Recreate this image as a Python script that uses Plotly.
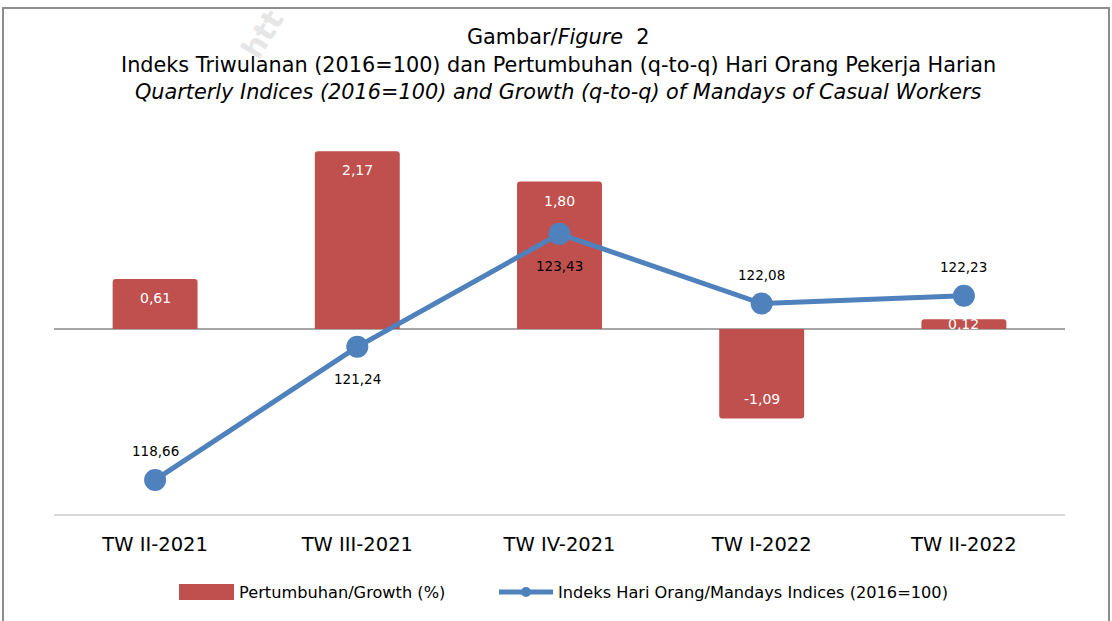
import plotly.graph_objects as go

categories = ["TW II-2021", "TW III-2021", "TW IV-2021", "TW I-2022", "TW II-2022"]
growth = [0.61, 2.17, 1.80, -1.09, 0.12]
index_vals = [118.66, 121.24, 123.43, 122.08, 122.23]
index_label_pos = ["above", "below", "below", "above", "above"]
series_names = ["Pertumbuhan/Growth (%)", "Indeks Hari Orang/Mandays Indices (2016=100)"]

BAR_COLOR = "#C0504D"
LINE_COLOR = "#4F81BD"
FONT = "DejaVu Sans"


def fmt(v):
    return f"{v:.2f}".replace(".", ",")


W, H = 1112, 621
L, R, T, B = 54, 47, 125, 107
pw, ph = W - L - R, H - T - B


def px_x(px):
    return (px - L) / pw


def px_y(py):
    return (H - B - py) / ph


fig = go.Figure()
fig.add_trace(go.Bar(
    x=categories, y=growth, name=series_names[0],
    marker=dict(color=BAR_COLOR, line=dict(width=0)), width=0.42, yaxis="y",
))
fig.add_trace(go.Scatter(
    x=categories, y=index_vals, name=series_names[1],
    mode="lines+markers", yaxis="y2",
    line=dict(color=LINE_COLOR, width=5),
    marker=dict(color=LINE_COLOR, size=22),
))

annotations = []
PX_PER_UNIT = 82
for c, v in zip(categories, growth):
    shift = min(19, abs(v) * PX_PER_UNIT / 2)
    annotations.append(dict(
        x=c, y=v, xref="x", yref="y", text=fmt(v), showarrow=False,
        yshift=-shift if v >= 0 else shift,
        font=dict(family=FONT, size=14, color="white"),
    ))
for c, v, p in zip(categories, index_vals, index_label_pos):
    annotations.append(dict(
        x=c, y=v, xref="x", yref="y2", text=fmt(v), showarrow=False,
        yshift=29 if p == "above" else -32,
        font=dict(family=FONT, size=13.5, color="black"),
    ))

# titles
title_lines = [
    ("Gambar/<i>Figure</i>  2", 37),
    ("Indeks Triwulanan (2016=100) dan Pertumbuhan (q-to-q) Hari Orang Pekerja Harian", 65),
    ("<i>Quarterly Indices (2016=100) and Growth (q-to-q) of Mandays of Casual Workers</i>", 92),
]
for txt, yy in title_lines:
    annotations.append(dict(x=px_x(558), y=px_y(yy), xref="paper", yref="paper", text=txt,
                            xanchor="center", yanchor="middle", showarrow=False,
                            font=dict(family=FONT, size=20.8, color="black")))

# watermark
annotations.append(dict(x=px_x(262), y=px_y(34), xref="paper", yref="paper", text="<b>htt</b>",
                        xanchor="center", yanchor="middle",
                        showarrow=False, textangle=-58,
                        font=dict(family=FONT, size=30, color="#E6E6E6")))

# custom legend
annotations.append(dict(x=px_x(237), y=px_y(592), xref="paper", yref="paper", text=series_names[0],
                        xanchor="left", yanchor="middle", showarrow=False,
                        font=dict(family=FONT, size=16.2, color="black")))
annotations.append(dict(x=px_x(556), y=px_y(592), xref="paper", yref="paper", text=series_names[1],
                        xanchor="left", yanchor="middle", showarrow=False,
                        font=dict(family=FONT, size=16.2, color="black")))

shapes = [
    dict(type="rect", xref="paper", yref="paper",
         x0=px_x(3), x1=px_x(1109), y0=px_y(640), y1=px_y(8),
         line=dict(color="#8C8C8C", width=2), fillcolor="rgba(0,0,0,0)", layer="below"),
    dict(type="rect", xref="paper", yref="paper",
         x0=px_x(179), x1=px_x(234), y0=px_y(600), y1=px_y(584),
         line=dict(width=0), fillcolor=BAR_COLOR),
    dict(type="line", xref="paper", yref="paper",
         x0=px_x(499), x1=px_x(553), y0=px_y(592), y1=px_y(592),
         line=dict(color=LINE_COLOR, width=5)),
    dict(type="circle", xref="paper", yref="paper",
         x0=px_x(521), x1=px_x(531), y0=px_y(597), y1=px_y(587),
         line=dict(width=0), fillcolor=LINE_COLOR),
]

fig.update_layout(
    width=W, height=H,
    margin=dict(l=L, r=R, t=T, b=B),
    paper_bgcolor="white", plot_bgcolor="white",
    font=dict(family=FONT, color="black"),
    barcornerradius=3,
    showlegend=False,
    hovermode=False,
    xaxis=dict(showline=True, linecolor="#D9D9D9", linewidth=2, showgrid=False,
               ticks="", tickfont=dict(family=FONT, size=19.5, color="black"),
               ticklabelstandoff=12, fixedrange=True),
    yaxis=dict(range=[-2.256, 2.49], showticklabels=False, showgrid=False, fixedrange=True,
               zeroline=True, zerolinecolor="#A6A6A6", zerolinewidth=2, showline=False),
    yaxis2=dict(range=[118.0, 125.54], overlaying="y", visible=False, showgrid=False),
    annotations=annotations,
    shapes=shapes,
)

fig.write_html("out.html", config={"displayModeBar": False},
               post_script="document.body.style.margin='0';")
